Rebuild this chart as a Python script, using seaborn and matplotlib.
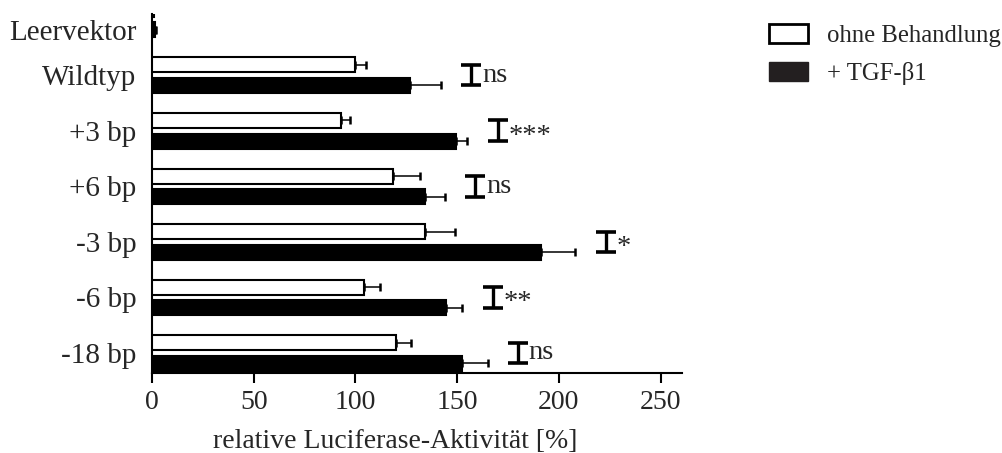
import numpy as np
import pandas as pd
import matplotlib
matplotlib.use("Agg")
import matplotlib.pyplot as plt
import matplotlib.transforms as mtransforms
from matplotlib.patches import Patch
import seaborn as sns

# Luciferase reporter constructs (mean and SD, % of wild type without treatment)
constructs = ["Leervektor", "Wildtyp", "+3 bp", "+6 bp", "-3 bp", "-6 bp", "-18 bp"]
treatments = ["ohne Behandlung", "+ TGF-\u03b21"]
mean_untreated = [1.0, 100.0, 93.0, 118.5, 134.0, 104.0, 120.0]
sd_untreated = [0.3, 5.0, 4.5, 13.0, 15.0, 8.0, 7.5]
mean_tgf = [1.5, 127.0, 149.5, 134.0, 191.0, 144.5, 152.5]
sd_tgf = [0.5, 15.0, 5.5, 10.0, 17.0, 8.0, 12.5]
significance = ["", "ns", "***", "ns", "*", "**", "ns"]
x_ticks = [0, 50, 100, 150, 200, 250]

df = pd.DataFrame({
    "Konstrukt": constructs * 2,
    "Behandlung": [treatments[0]] * len(constructs) + [treatments[1]] * len(constructs),
    "Aktivität": mean_untreated + mean_tgf,
    "SD": sd_untreated + sd_tgf,
})

sns.set_style("ticks")
plt.rcParams["font.family"] = ["Liberation Serif", "DejaVu Serif"]
plt.rcParams["font.size"] = 20

fig = plt.figure(figsize=(10.03, 4.53), dpi=100)
ax = fig.add_axes([0.1515, 0.1766, 0.5285, 0.7924])

width = 0.74
sns.barplot(
    data=df, y="Konstrukt", x="Aktivität", hue="Behandlung", orient="h",
    order=constructs, hue_order=treatments,
    palette={treatments[0]: "white", treatments[1]: "black"},
    edgecolor="black", linewidth=1.5, width=width, gap=0.27,
    errorbar=None, legend=False, ax=ax, zorder=3,
)

# one-sided SD whiskers on each bar
sds = [sd_untreated, sd_tgf]
for container, sd in zip(ax.containers, sds):
    ys = [p.get_y() + p.get_height() / 2 for p in container]
    xs = [p.get_width() for p in container]
    ax.errorbar(xs, ys, xerr=[np.zeros(len(sd)), sd], fmt="none",
                ecolor="black", elinewidth=1.1, capsize=2.6, capthick=1.8,
                zorder=4)

# significance brackets between the two bars of each construct
offset = width / 4
for i, label in enumerate(significance):
    if not label:
        continue
    top = max(mean_untreated[i] + sd_untreated[i], mean_tgf[i] + sd_tgf[i])
    bx = top + 15
    ax.errorbar([bx], [i], yerr=[[offset], [offset]], fmt="none",
                ecolor="black", elinewidth=2.4, capsize=7.2, capthick=2.6,
                zorder=4)
    dy = 0.1 if "*" in label else 0.0
    ax.text(bx + 5.2, i + dy, label, ha="left", va="center", fontsize=20.5)

ax.set_xlim(0, 260.5)
ax.set_ylim(6.36, -0.1)
ax.set_xticks(x_ticks)
ax.set_xlabel("relative Luciferase-Aktivität [%]", fontsize=20, labelpad=10)
ax.xaxis.label.set_x(0.459)
ax.set_ylabel("")
ax.tick_params(axis="x", length=7.5, width=1.5, pad=5, labelsize=20, color="black")
ax.tick_params(axis="y", length=0, pad=11, labelsize=21)
for side in ("top", "right"):
    ax.spines[side].set_visible(False)
for side in ("left", "bottom"):
    ax.spines[side].set_linewidth(1.5)
    ax.spines[side].set_color("black")

# the empty-vector label sits level with its visible bar below the axis top
first = ax.get_yticklabels()[0]
first.set_transform(first.get_transform()
                    + mtransforms.ScaledTranslation(0, -10 / 100, fig.dpi_scale_trans))

handles = [
    Patch(facecolor="white", edgecolor="black", linewidth=2.0),
    Patch(facecolor="#231f20", edgecolor="#231f20", linewidth=1.0),
]
fig.legend(handles, treatments, loc="upper left", bbox_to_anchor=(0.767, 0.946),
           frameon=False, fontsize=17.8, handlelength=1.55, handleheight=0.78,
           handletextpad=0.8, labelspacing=0.6, borderpad=0, borderaxespad=0)

fig.savefig("out.png", dpi=100)
